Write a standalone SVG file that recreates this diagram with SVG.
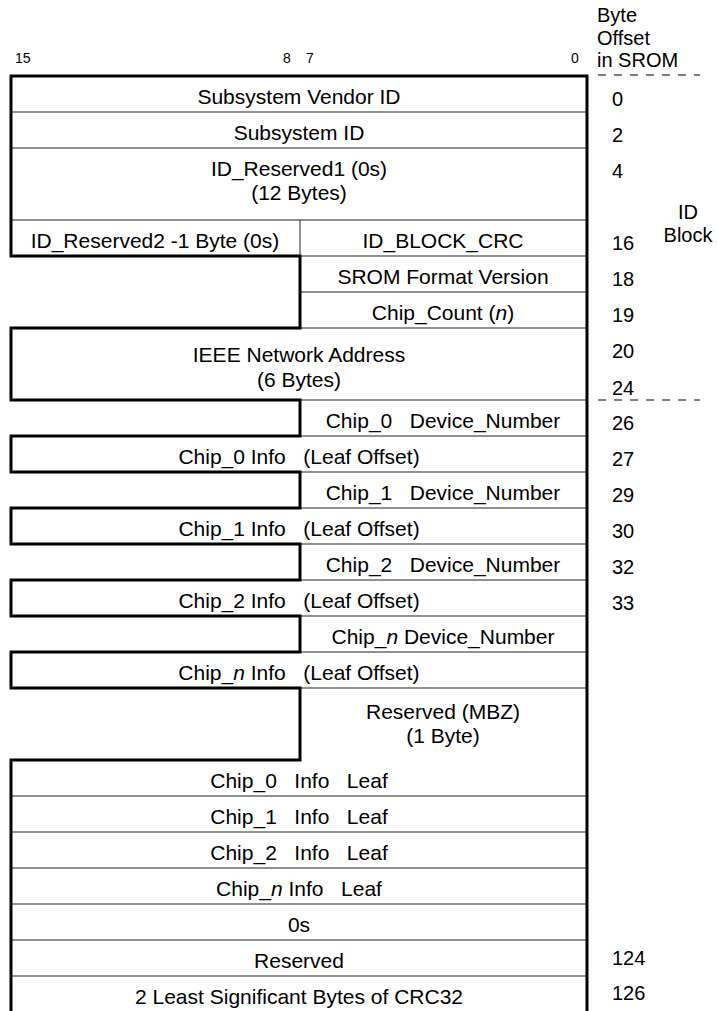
<svg xmlns="http://www.w3.org/2000/svg" width="717" height="1011" viewBox="0 0 717 1011">
<style>
text{font-family:"Liberation Sans",Arial,sans-serif;font-size:21px;fill:#000;white-space:pre}
.c{text-anchor:middle}
.h{font-size:14px}
.o{font-size:20px}
.thin{stroke:#222;stroke-width:1;fill:none}
.thick{stroke:#000;stroke-width:3;fill:none;stroke-linejoin:miter}
.dash{stroke:#000;stroke-width:1;stroke-dasharray:8 8;fill:none}
</style>
<rect width="717" height="1011" fill="#fff"/>
<g id="header">
<text class="h" x="15" y="63">15</text>
<text class="h c" x="287" y="63">8</text>
<text class="h c" x="310" y="63">7</text>
<text class="h c" x="575" y="63">0</text>
<text class="o" x="597" y="22">Byte</text>
<text class="o" x="597" y="45">Offset</text>
<text class="o" x="597" y="67">in SROM</text>
<text class="o c" x="688" y="219">ID</text>
<text class="o c" x="688" y="242">Block</text>
</g>
<g id="connectors">
<path class="thin" d="M11 112H587M11 148H587M11 220H587M300 220V256M300 256H587M300 292H587M300 328H587M300 400H587M300 436H587M300 472H587M300 508H587M300 544H587M300 580H587M300 616H587M300 652H587M300 688H587M11 796H587M11 832H587M11 868H587M11 904H587M11 940H587M11 976H587"/>
<path class="thick" d="M11 1012V760H300V688H11V652H300V616H11V580H300V544H11V508H300V472H11V436H300V400H11V328H300V256H11V76H587V1012"/>
<path class="dash" d="M598 75H700M598 400H700"/>
</g>
<g id="rows">
<g id="r0"><text class="c" x="299" y="104">Subsystem Vendor ID</text><text class="o" x="612" y="106">0</text></g>
<g id="r2"><text class="c" x="299" y="140">Subsystem ID</text><text class="o" x="612" y="142">2</text></g>
<g id="r4"><text class="c" x="299" y="176">ID_Reserved1 (0s)</text><text class="c" x="299" y="200">(12 Bytes)</text><text class="o" x="612" y="178">4</text></g>
<g id="r16a"><text class="c" x="155" y="248">ID_Reserved2 -1 Byte (0s)</text></g>
<g id="r16"><text class="c" x="443" y="248">ID_BLOCK_CRC</text><text class="o" x="612" y="250">16</text></g>
<g id="r18"><text class="c" x="443" y="284">SROM Format Version</text><text class="o" x="612" y="286">18</text></g>
<g id="r19"><text class="c" x="443" y="320">Chip_Count (<tspan font-style="italic">n</tspan>)</text><text class="o" x="612" y="322">19</text></g>
<g id="r20"><text class="c" x="299" y="362">IEEE Network Address</text><text class="c" x="299" y="387">(6 Bytes)</text><text class="o" x="612" y="358">20</text><text class="o" x="612" y="395">24</text></g>
<g id="r26"><text class="c" x="443" y="428">Chip_0   Device_Number</text><text class="o" x="612" y="430">26</text></g>
<g id="r27"><text class="c" x="299" y="464">Chip_0 Info   (Leaf Offset)</text><text class="o" x="612" y="466">27</text></g>
<g id="r29"><text class="c" x="443" y="500">Chip_1   Device_Number</text><text class="o" x="612" y="502">29</text></g>
<g id="r30"><text class="c" x="299" y="536">Chip_1 Info   (Leaf Offset)</text><text class="o" x="612" y="538">30</text></g>
<g id="r32"><text class="c" x="443" y="572">Chip_2   Device_Number</text><text class="o" x="612" y="574">32</text></g>
<g id="r33"><text class="c" x="299" y="608">Chip_2 Info   (Leaf Offset)</text><text class="o" x="612" y="610">33</text></g>
<g id="rnd"><text class="c" x="443" y="644">Chip_<tspan font-style="italic">n</tspan> Device_Number</text></g>
<g id="rni"><text class="c" x="299" y="680">Chip_<tspan font-style="italic">n</tspan> Info   (Leaf Offset)</text></g>
<g id="rmbz"><text class="c" x="443" y="719">Reserved (MBZ)</text><text class="c" x="443" y="743">(1 Byte)</text></g>
<g id="l0"><text class="c" x="299" y="788">Chip_0   Info   Leaf</text></g>
<g id="l1"><text class="c" x="299" y="824">Chip_1   Info   Leaf</text></g>
<g id="l2"><text class="c" x="299" y="860">Chip_2   Info   Leaf</text></g>
<g id="ln"><text class="c" x="299" y="896">Chip_<tspan font-style="italic">n</tspan> Info   Leaf</text></g>
<g id="z"><text class="c" x="299" y="932">0s</text></g>
<g id="r124"><text class="c" x="299" y="968">Reserved</text><text class="o" x="612" y="965">124</text></g>
<g id="r126"><text class="c" x="299" y="1004">2 Least Significant Bytes of CRC32</text><text class="o" x="612" y="1000">126</text></g>
</g>
</svg>
